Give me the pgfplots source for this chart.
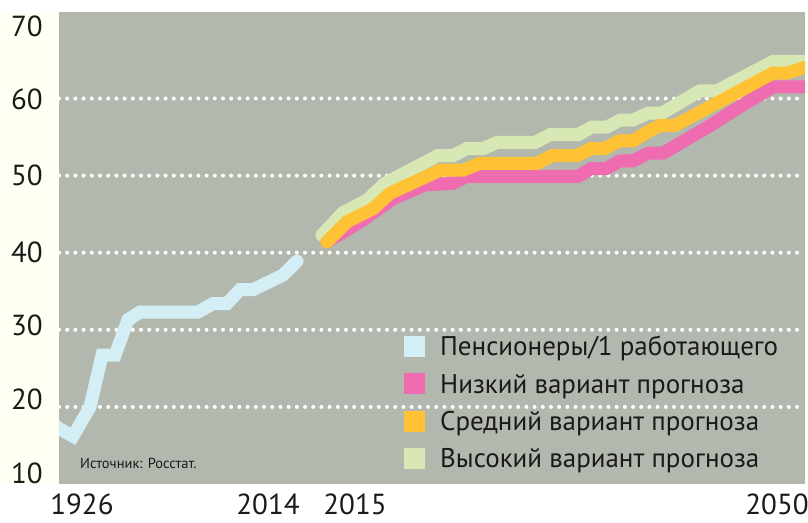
\documentclass[border=0pt]{standalone}
\usepackage{pgfplots}
\pgfplotsset{compat=1.18}
\usepackage{fontspec}
\setmainfont{PT Sans}
\definecolor{bggray}{HTML}{B2B8AD}
\definecolor{cream}{HTML}{FFFFF4}
\definecolor{lblue}{HTML}{D4EEF5}
\definecolor{lpink}{HTML}{F06CB0}
\definecolor{lorange}{HTML}{FFC234}
\definecolor{lgreen}{HTML}{D8E8B4}
\definecolor{textc}{HTML}{1A1A1A}
\pgfplotsset{sq/.style={legend image code/.code={\fill[#1, draw=none] (0pt,-10.5pt) rectangle (21pt,10.5pt);}}}
\begin{document}
\begin{tikzpicture}[x=1pt,y=1pt]
\useasboundingbox (0,0) rectangle (808,522);
\fill[white] (0,0) rectangle (808,522);
\fill[cream] (0,38) rectangle (59,510);
\fill[cream] (805,38) rectangle (808,510);
\begin{axis}[at={(59pt,38pt)}, anchor=south west, scale only axis,
  width=746pt, height=472pt,
  xmin=59, xmax=805, ymin=10, ymax=71.22,
  axis background/.style={fill=bggray},
  axis line style={draw=none}, major tick length=0pt,
  xtick={82,268,355,777}, xticklabels={1926,2014,2015,2050},
  ytick={11.4,20.9,30.6,40,50,59.9,69.4}, yticklabels={10,20,30,40,50,60,70},
  extra y ticks={20,30,40,50,60}, extra y tick labels={},
  extra y tick style={grid=major, major grid style={white, line width=4pt, dash pattern=on 0pt off 8.2pt, line cap=round}},
  tick label style={font=\fontsize{29}{29}\selectfont, text=textc, inner sep=0pt, text height=20pt, text depth=0pt},
  yticklabel style={anchor=east, xshift=-16pt},
  xticklabel style={anchor=north, yshift=-10pt},
  legend style={draw=none, fill=none, at={(axis cs:404,29.23)}, anchor=north west,
    inner sep=0pt, row sep=16.3pt, column sep=15pt,
    font=\fontsize{27}{27}\selectfont, text=textc,
    nodes={inner sep=0pt, text height=19pt, text depth=0pt}},
  legend cell align=left,
  every axis plot/.append style={line width=13pt, line cap=round, line join=miter},
]
\addplot[lblue, sq=lblue] coordinates {
(55,17.6) (59,17.2) (73,16.2) (90,20.0) (102,26.7) (115,26.7) (128,31.3) (140,32.3)
(198,32.3) (213,33.4) (227,33.4) (240,35.2) (253,35.2) (283,37.1) (297,38.9)};
\addlegendentry{Пенсионеры/1 работающего}
\addplot[lgreen, forget plot] coordinates {
(322,42.3) (343,45.2) (367,46.8) (385,49.0) (438,52.6) (453,52.6) (467,53.5) (483,53.5)
(497,54.3) (535,54.3) (550,55.3) (578,55.3) (592,56.3) (607,56.3) (620,57.2) (633,57.2)
(648,58.1) (662,58.1) (700,61.0) (717,61.0) (773,64.8) (815,64.8)};
\addplot[lpink, sq=lpink] coordinates {
(327,41.4) (345,42.8) (360,44.0) (393,47.0) (425,48.8) (453,49.0) (467,49.9) (578,49.9)
(591,50.9) (606,50.9) (620,51.9) (633,51.9) (648,52.9) (663,52.9) (713,56.7) (733,58.4)
(773,61.5) (815,61.5)};
\addlegendentry{Низкий вариант прогноза}
\addplot[lorange, sq=lorange] coordinates {
(327,41.4) (347,44.0) (373,45.7) (390,47.7) (440,50.7) (463,50.7) (480,51.6) (537,51.6)
(552,52.6) (577,52.6) (591,53.5) (605,53.5) (619,54.5) (633,54.5) (648,55.7) (660,56.5)
(675,56.5) (773,63.3) (787,63.3) (804,64.0) (815,64.0)};
\addlegendentry{Средний вариант прогноза}
\addlegendimage{sq=lgreen}
\addlegendentry{Высокий вариант прогноза}
\node[anchor=west, inner sep=0pt, font=\fontsize{14.5}{14.5}\selectfont, text=textc] at (axis cs:80,12.7) {Источник: Росстат.};
\end{axis}
\end{tikzpicture}
\end{document}
